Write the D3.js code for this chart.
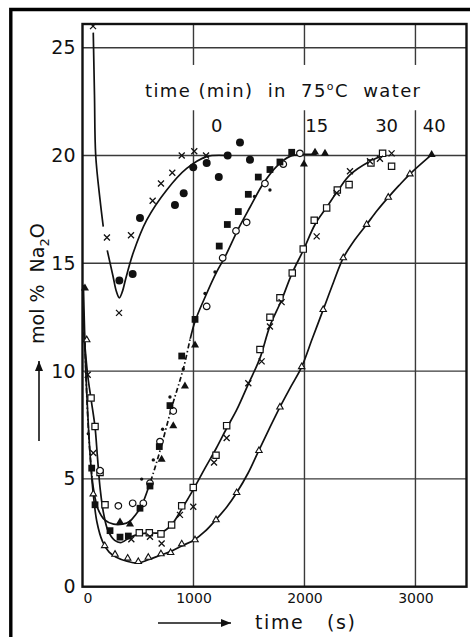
<!DOCTYPE html>
<html>
<head>
<meta charset="utf-8">
<script src="https://cdn.jsdelivr.net/npm/d3@7"></script>
<style>
body { margin: 0; background: #fff; }
text { font-family: "DejaVu Sans", sans-serif; fill: #111; }
</style>
</head>
<body>
<div id="wrapper"></div>
<script>
var width = 470;
var height = 637;

var yTicks = [0, 5, 10, 15, 20, 25];
var xTicks = [0, 1000, 2000, 3000];
var gridX = [1000, 2000, 3000];
var gridY = [5, 10, 15, 20, 25];
var curveLabels = ["0", "15", "30", "40"];

// [time (s), mol % Na2O]
var aLineTop = [[97, 25.7], [108, 22.8], [119, 20.0], [158, 17.95], [187, 16.7]];
var aLine = [[223, 15.6], [275, 14.4], [305, 13.7], [332, 13.4], [360, 13.7], [390, 14.3], [458, 15.5], [578, 17.0], [759, 18.4], [939, 19.4], [1119, 19.95], [1302, 20.0]];
var aCross = [[95, 26.0], [220, 16.2], [329, 12.7], [437, 16.3], [632, 17.9], [707, 18.7], [809, 19.2], [894, 20.0], [1007, 20.2], [1113, 20.0]];
var aDot = [[332, 14.2], [452, 14.5], [518, 17.1], [833, 17.7], [912, 18.25], [998, 19.45], [1119, 19.65], [1228, 19.0], [1308, 20.0], [1419, 20.6], [1509, 19.8]];

var bLine = [[8, 14.0], [18, 12.0], [30, 10.0], [50, 7.6], [75, 5.7], [100, 4.5], [140, 3.6], [200, 3.1], [280, 2.9], [360, 2.9], [430, 3.05], [480, 3.35], [527, 3.7], [608, 4.8], [698, 6.3], [803, 8.3], [908, 10.1], [1007, 12.2], [1119, 13.6], [1209, 14.6], [1284, 15.3], [1404, 16.6], [1509, 17.6], [1629, 18.7], [1750, 19.5], [1869, 19.96], [1990, 20.05], [2110, 20.05]];
var bSquare = [[83, 5.5], [113, 3.8], [248, 2.6], [338, 2.3], [413, 2.35], [518, 3.64], [608, 4.67], [692, 6.5], [788, 8.4], [894, 10.7], [1014, 12.4], [1232, 15.8], [1305, 16.8], [1404, 17.4], [1494, 18.2], [1584, 19.0], [1689, 19.35], [1779, 19.7], [1885, 20.15]];
var bCircle = [[158, 5.38], [323, 3.75], [452, 3.87], [548, 3.87], [608, 4.8], [698, 6.73], [818, 8.15], [1119, 13.0], [1263, 15.25], [1383, 16.5], [1479, 16.9], [1644, 18.7], [1809, 19.6], [1959, 20.1]];
var bTriangle = [[22, 13.85], [338, 3.0], [428, 2.9], [713, 5.9], [818, 7.46], [923, 9.3], [1014, 11.2], [1995, 19.6], [2095, 20.15], [2185, 20.1]];
var bPlus = [[52, 7.1], [533, 4.99], [638, 5.88], [722, 7.3], [788, 8.8], [908, 10.1], [1104, 13.6], [1194, 14.6], [1550, 18.1], [1689, 18.4]];

var cLine = [[12, 11.8], [47, 9.8], [80, 8.6], [113, 7.4], [135, 6.0], [160, 4.5], [190, 3.4], [230, 2.6], [290, 2.15], [350, 2.05], [430, 2.3], [520, 2.45], [600, 2.5], [700, 2.5], [800, 2.86], [894, 3.6], [998, 4.5], [1104, 5.5], [1203, 6.4], [1299, 7.35], [1389, 8.2], [1494, 9.4], [1599, 10.6], [1689, 12.1], [1794, 13.3], [1885, 14.5], [1989, 15.6], [2095, 16.8], [2200, 17.6], [2305, 18.4], [2410, 19.1], [2590, 19.73], [2710, 20.0]];
var cSquare = [[77, 8.75], [113, 7.43], [158, 5.3], [203, 3.8], [512, 2.5], [602, 2.5], [707, 2.45], [803, 2.86], [894, 3.75], [998, 4.6], [1203, 6.1], [1299, 7.47], [1599, 11.0], [1689, 12.5], [1779, 13.4], [1890, 14.55], [1989, 15.66], [2088, 17.0], [2200, 17.57], [2296, 18.4], [2402, 18.65], [2599, 19.65], [2704, 20.1], [2785, 19.5]];
var cCross = [[47, 9.83], [97, 6.2], [440, 2.2], [608, 2.32], [713, 2.0], [878, 3.33], [998, 3.71], [1185, 5.76], [1299, 6.9], [1494, 9.44], [1614, 10.45], [1689, 12.07], [1794, 13.2], [2110, 16.25], [2290, 18.26], [2410, 19.27], [2590, 19.73], [2680, 19.85], [2785, 20.1]];

var dLine = [[5, 13.0], [20, 11.2], [40, 8.8], [65, 6.4], [95, 4.4], [130, 3.0], [180, 2.1], [240, 1.6], [300, 1.38], [400, 1.18], [497, 1.09], [593, 1.25], [698, 1.45], [803, 1.65], [894, 1.89], [1007, 2.17], [1100, 2.55], [1194, 3.06], [1300, 3.7], [1389, 4.36], [1490, 5.25], [1584, 6.27], [1680, 7.3], [1779, 8.33], [1880, 9.3], [1975, 10.2], [2070, 11.5], [2169, 12.85], [2260, 14.1], [2350, 15.25], [2455, 16.1], [2560, 16.8], [2655, 17.45], [2755, 18.06], [2850, 18.6], [2950, 19.14], [3146, 20.04]];
var dTriangle = [[38, 11.45], [97, 4.3], [200, 1.9], [293, 1.5], [407, 1.32], [503, 1.16], [593, 1.36], [707, 1.52], [794, 1.58], [894, 1.98], [1014, 2.17], [1203, 3.1], [1389, 4.36], [1590, 6.31], [1779, 8.33], [1975, 10.2], [2169, 12.85], [2350, 15.25], [2560, 16.8], [2755, 18.06], [2950, 19.14]];
var dTriangleEnd = [[3146, 20.04]];

var ink = "#111";

var svg = d3.select("#wrapper").append("svg")
	.attr("width", width)
	.attr("height", height);

var x = d3.scaleLinear().domain([0, 3460]).range([82.5, 466.5]);
var y = d3.scaleLinear().domain([0, 26.1]).range([586.7, 24]);

// outer frame, cut by the page edge on the right and bottom
svg.append("path")
	.attr("d", "M10.8,640 L10.8,9.5 L472,9.5")
	.attr("fill", "none")
	.attr("stroke", "#000")
	.attr("stroke-width", 3.4);

// grid
svg.append("g").selectAll("line").data(gridY).enter().append("line")
	.attr("x1", x(0)).attr("x2", x(3460))
	.attr("y1", function(d){ return y(d); })
	.attr("y2", function(d){ return y(d); })
	.attr("stroke", "#3a3a3a")
	.attr("stroke-width", 1.4);

// vertical lines break round the header text
var gridParts = [];
gridX.forEach(function(t){
	gridParts.push([t, 0, 22.1]);
	gridParts.push([t, 24.2, 26.1]);
});
svg.append("g").selectAll("line").data(gridParts).enter().append("line")
	.attr("x1", function(d){ return x(d[0]); })
	.attr("x2", function(d){ return x(d[0]); })
	.attr("y1", function(d){ return y(d[1]); })
	.attr("y2", function(d){ return y(d[2]); })
	.attr("stroke", "#3a3a3a")
	.attr("stroke-width", 1.4);

svg.append("rect")
	.attr("x", x(0))
	.attr("y", y(26.1))
	.attr("width", x(3460) - x(0))
	.attr("height", y(0) - y(26.1))
	.attr("fill", "none")
	.attr("stroke", ink)
	.attr("stroke-width", 2.4);

// axes
var yAxis = svg.append("g")
	.attr("transform", "translate(" + x(0) + ",0)")
	.call(d3.axisLeft(y).tickValues(yTicks).tickSize(0).tickPadding(7));
yAxis.select(".domain").remove();
yAxis.selectAll("text")
	.style("font-family", "'DejaVu Sans', sans-serif")
	.style("font-size", "19px")
	.attr("fill", ink);

var xAxis = svg.append("g")
	.attr("transform", "translate(0," + y(0) + ")")
	.call(d3.axisBottom(x).tickValues(xTicks).tickSize(0).tickPadding(6).tickFormat(d3.format("d")));
xAxis.select(".domain").remove();
xAxis.selectAll("text")
	.style("font-family", "'DejaVu Sans', sans-serif")
	.style("font-size", "14px")
	.attr("fill", ink)
	.attr("dx", function(d){ return d == 0 ? 5 : 0; });

// axis titles
svg.append("text")
	.attr("x", 255)
	.attr("y", 629)
	.attr("textLength", 100)
	.attr("lengthAdjust", "spacing")
	.style("white-space", "pre")
	.style("font-size", "19px")
	.text("time   (s)");

function arrow(x1, y1, x2, y2){
	svg.append("line")
		.attr("x1", x1).attr("y1", y1).attr("x2", x2).attr("y2", y2)
		.attr("stroke", ink).attr("stroke-width", 1.6);
	var a = Math.atan2(y2 - y1, x2 - x1) * 180 / Math.PI;
	svg.append("path")
		.attr("d", "M0,0 L-10,-4 L-10,4 Z")
		.attr("fill", ink)
		.attr("transform", "translate(" + x2 + "," + y2 + ") rotate(" + a + ")");
}
arrow(158, 623, 231, 623);
arrow(39, 441, 39, 361);

var yTitle = svg.append("text")
	.attr("transform", "translate(44,344) rotate(-90)")
	.style("white-space", "pre")
	.style("font-size", "19px");
yTitle.append("tspan").text("mol %  Na");
yTitle.append("tspan").attr("dy", 5).style("font-size", "13px").text("2");
yTitle.append("tspan").attr("dy", -5).text("O");

// header
var header = svg.append("text")
	.attr("x", 145)
	.attr("y", 97)
	.attr("textLength", 275)
	.attr("lengthAdjust", "spacing")
	.style("white-space", "pre")
	.style("font-size", "18px");
header.append("tspan").text("time (min)  in  75");
header.append("tspan").attr("dy", -7).style("font-size", "11px").text("o");
header.append("tspan").attr("dy", 7).text("C  water");

var labelAt = [1210, 2110, 2740, 3170];
svg.append("g").selectAll("text").data(curveLabels).enter().append("text")
	.attr("x", function(d, i){ return x(labelAt[i]); })
	.attr("y", y(20.8) - 0)
	.attr("dy", -6)
	.attr("text-anchor", "middle")
	.style("font-size", "18px")
	.text(function(d){ return d; });

// curves
var line = d3.line()
	.x(function(d){ return x(d[0]); })
	.y(function(d){ return y(d[1]); })
	.curve(d3.curveCatmullRom.alpha(0.5));

// where curve B turns dash-dot
var dashT = [0, 1000];
var dashV = [5, 11.5];
var defs = svg.append("defs");
var mask = defs.append("mask").attr("id", "solidPart");
mask.append("rect").attr("x", 0).attr("y", 0).attr("width", width).attr("height", height).attr("fill", "#fff");
mask.append("rect")
	.attr("x", 0).attr("y", y(dashV[1]))
	.attr("width", x(dashT[1])).attr("height", y(dashV[0]) - y(dashV[1]))
	.attr("fill", "#000");
defs.append("clipPath").attr("id", "dashPart").append("rect")
	.attr("x", 0).attr("y", y(dashV[1]))
	.attr("width", x(dashT[1])).attr("height", y(dashV[0]) - y(dashV[1]));

function drawCurve(data, extra){
	var p = svg.append("path")
		.attr("d", line(data))
		.attr("fill", "none")
		.attr("stroke", ink)
		.attr("stroke-width", 1.7);
	if (extra) extra(p);
	return p;
}

drawCurve(aLineTop);
drawCurve(aLine);
drawCurve(bLine, function(p){ p.attr("mask", "url(#solidPart)"); });
drawCurve(bLine, function(p){ p.attr("clip-path", "url(#dashPart)").attr("stroke-dasharray", "5,2.5,1.5,2.5"); });
drawCurve(cLine);
drawCurve(dLine);

// markers
var markerKinds = {
	cross:        {path: "M-3,-3L3,3M-3,3L3,-3", fill: "none", stroke: 1.3},
	dot:          {symbol: d3.symbolCircle, size: 50, fill: ink, stroke: 0},
	square:       {symbol: d3.symbolSquare, size: 46, fill: ink, stroke: 0},
	openSquare:   {symbol: d3.symbolSquare, size: 40, fill: "#fff", stroke: 1.2},
	openCircle:   {symbol: d3.symbolCircle, size: 34, fill: "#fff", stroke: 1.2},
	triangle:     {symbol: d3.symbolTriangle, size: 28, fill: ink, stroke: 0},
	openTriangle: {symbol: d3.symbolTriangle, size: 18, fill: "#fff", stroke: 1.1},
	plus:         {symbol: d3.symbolCircle, size: 9, fill: ink, stroke: 0}
};

function drawMarkers(data, kind){
	var k = markerKinds[kind];
	var d = k.path ? k.path : d3.symbol().type(k.symbol).size(k.size)();
	svg.append("g").attr("class", kind)
		.selectAll("path").data(data).enter().append("path")
		.attr("d", d)
		.attr("transform", function(p){ return "translate(" + x(p[0]) + "," + y(p[1]) + ")"; })
		.attr("fill", k.fill)
		.attr("stroke", k.stroke ? ink : "none")
		.attr("stroke-width", k.stroke);
}

drawMarkers(dTriangle, "openTriangle");
drawMarkers(dTriangleEnd, "triangle");
drawMarkers(cSquare, "openSquare");
drawMarkers(cCross, "cross");
drawMarkers(bCircle, "openCircle");
drawMarkers(bSquare, "square");
drawMarkers(bTriangle, "triangle");
drawMarkers(bPlus, "plus");
drawMarkers(aCross, "cross");
drawMarkers(aDot, "dot");
</script>
</body>
</html>
